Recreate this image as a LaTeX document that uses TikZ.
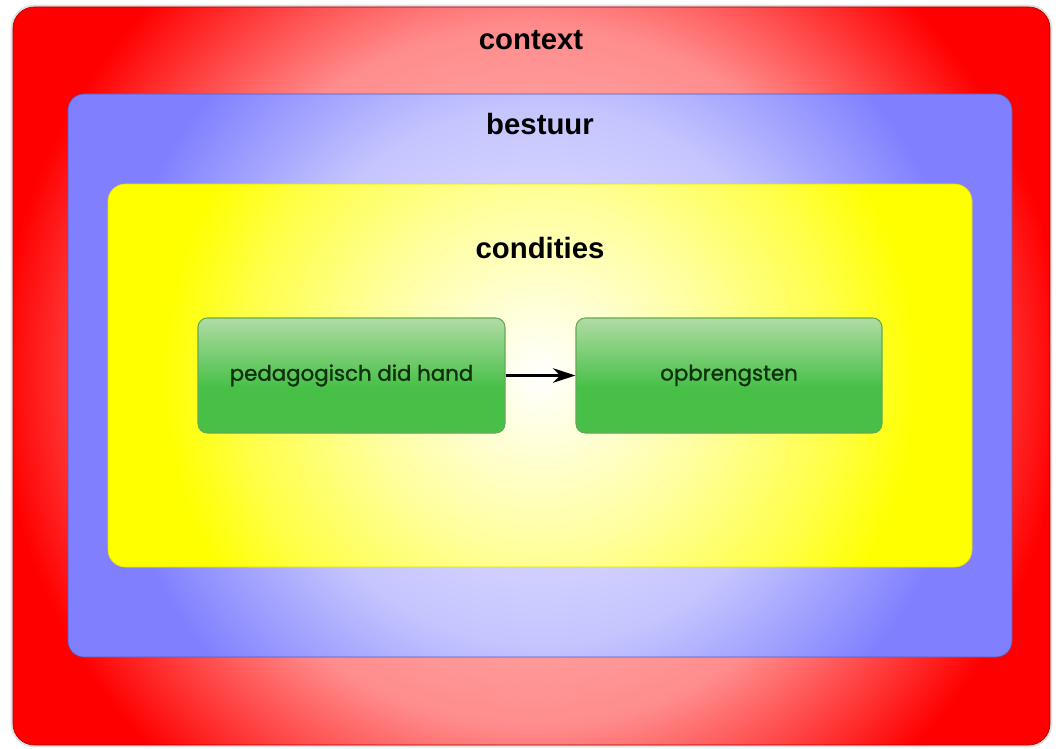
\documentclass[tikz,border=0pt]{standalone}
\usepackage{fontspec}
\setmainfont{Liberation Sans}
\newfontfamily\roundfont[FakeBold=1.3]{Poppins}
\usepackage{tikz}
\usetikzlibrary{arrows.meta,fit,positioning}

\definecolor{ctxred}{RGB}{255,0,0}
\definecolor{bstblue}{RGB}{128,128,255}
\definecolor{cndyellow}{RGB}{255,255,0}
\definecolor{boxtop}{RGB}{176,220,164}
\definecolor{boxbot}{RGB}{72,192,72}
\definecolor{boxline}{RGB}{100,170,84}
\definecolor{boxtext}{RGB}{14,50,14}

\pgfdeclareradialshading{ctxglow}{\pgfpoint{0bp}{0bp}}{color(0bp)=(ctxred!20); color(12.5bp)=(ctxred!45); color(19bp)=(ctxred); color(50bp)=(ctxred)}
\pgfdeclareradialshading{bstglow}{\pgfpoint{0bp}{0bp}}{color(0bp)=(bstblue!18); color(9.5bp)=(bstblue!45); color(15.5bp)=(bstblue); color(50bp)=(bstblue)}
\pgfdeclareradialshading{cndglow}{\pgfpoint{0bp}{0bp}}{color(0bp)=(white); color(6.2bp)=(cndyellow!38); color(10.7bp)=(cndyellow!72); color(13.5bp)=(cndyellow); color(50bp)=(cndyellow)}
\pgfdeclareverticalshading{greenbar}{100bp}{color(0bp)=(boxbot); color(45bp)=(boxbot); color(75bp)=(boxtop); color(100bp)=(boxtop)}

\tikzset{
  glow/.style={path picture={\shade[shading=#1] (path picture bounding box.center) ++(-700,-700) rectangle ++(1400,1400);}},
  layer/.style={inner sep=0pt, line width=0.5pt},
  title/.style={font=\fontsize{22}{26}\selectfont\bfseries, text=black},
  stage/.style={layer, rounded corners=7pt, draw=boxline, line width=0.8pt, shading=greenbar},
  stagetext/.style={font=\roundfont\fontsize{16}{19}\selectfont, text=boxtext}
}

\begin{document}
\begin{tikzpicture}[x=0.75pt, y=-0.75pt]
\useasboundingbox[fill=white] (0,0) rectangle (1061,749);
% nested layers
\node[layer, fit={(13,7) (1050,745)}, rounded corners=16pt, draw=ctxred!70!black, glow=ctxglow,
  preaction={draw=black!12, line width=3.5pt}] (ctx) {};
\node[layer, fit={(68,94) (1012,657)}, rounded corners=12pt, draw=bstblue!70!black, glow=bstglow] (bst) {};
\node[layer, fit={(108,184) (972,567)}, rounded corners=13pt, draw=cndyellow!90!black, glow=cndglow] (cnd) {};
\node[title] (ctxlabel) at (531,40) {context};
\node[title] (bstlabel) at (540,124) {bestuur};
\node[title] (cndlabel) at (540,248) {condities};
% the two stages
\node[stage, fit={(198,318) (505,433)}, label={[stagetext, name=pedtext]center:pedagogisch did hand}] (ped) {};
\node[stage, fit={(576,318) (882,433)}, label={[stagetext, name=opbtext]center:opbrengsten}] (opb) {};
\draw[-{Stealth[length=17pt, width=11pt]}, line width=1.6pt] (ped) -- (opb);
\end{tikzpicture}
\end{document}
